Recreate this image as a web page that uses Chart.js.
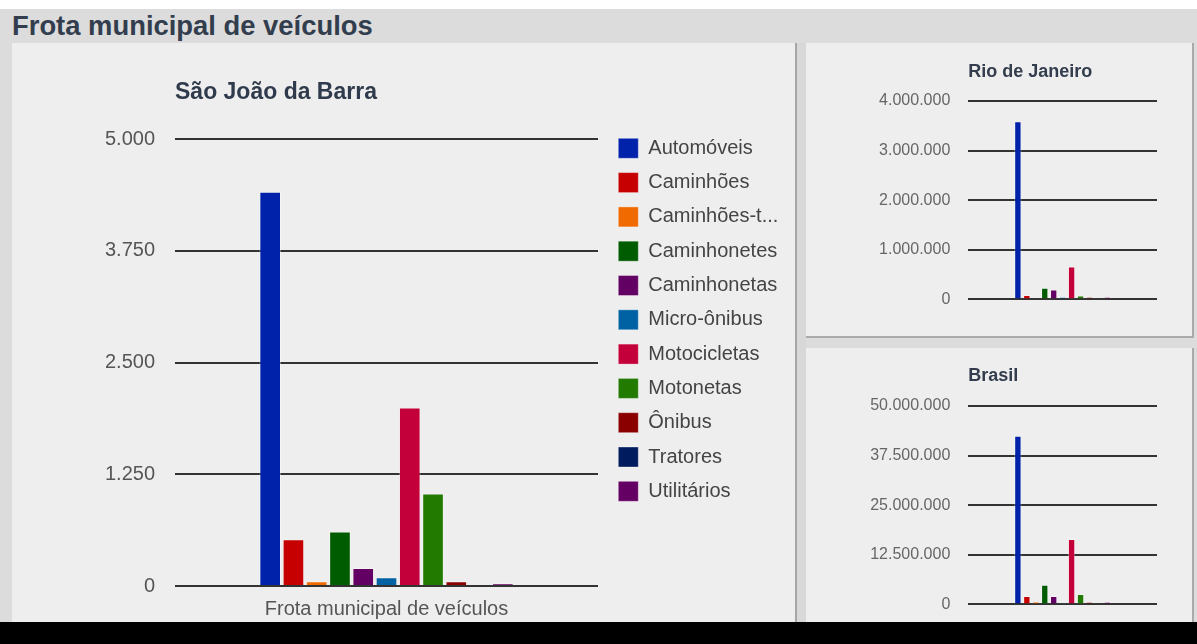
<!DOCTYPE html>
<html><head><meta charset="utf-8">
<script src="https://cdn.jsdelivr.net/npm/chart.js@4.4.1/dist/chart.umd.min.js"></script>
<style>
html,body{margin:0;padding:0;background:#fff;}
body{width:1197px;height:644px;position:relative;overflow:hidden;font-family:'Liberation Sans',Arial,sans-serif;}
#bg{position:absolute;left:0;top:9px;width:1197px;height:613px;background:#dcdcdc;}
#hdr{position:absolute;left:12px;top:12px;font-size:27.4px;line-height:27px;font-weight:bold;color:#323e4e;white-space:nowrap;}
#main{position:absolute;left:12px;top:43px;width:783px;height:579px;background:#eeeeee;}
#sep{position:absolute;left:795px;top:43px;width:2px;height:579px;background:#a6a6a6;}
#sep2{position:absolute;left:797px;top:43px;width:9px;height:579px;background:#d8d8d8;}
#rio{position:absolute;left:806px;top:43px;width:386px;height:293px;background:#eeeeee;border-right:2px solid #aaaaaa;border-bottom:2px solid #aaaaaa;}
#bra{position:absolute;left:806px;top:348px;width:386px;height:274px;background:#eeeeee;border-right:2px solid #aaaaaa;}
#black{position:absolute;left:0;top:622px;width:1197px;height:22px;background:#000;}
canvas{position:absolute;}
#c1{left:12px;top:43px;}
#c2{left:810px;top:43px;}
#c3{left:810px;top:348px;}
</style></head>
<body>
<div id="bg"></div>
<div id="hdr">Frota municipal de veículos</div>
<div id="main"></div>
<div id="sep"></div>
<div id="sep2"></div>
<div id="rio"></div>
<div id="bra"></div>
<canvas id="c1" width="768" height="581"></canvas>
<canvas id="c2" width="347" height="284"></canvas>
<canvas id="c3" width="347" height="284"></canvas>
<div id="black"></div>
<script>
const categories = ['Frota municipal de veículos'];
const seriesNames = ['Automóveis','Caminhões','Caminhões-trator','Caminhonetes','Caminhonetas','Micro-ônibus','Motocicletas','Motonetas','Ônibus','Tratores','Utilitários'];
const seriesColors = ['#0021a9','#c60000','#f06a00','#005c00','#620064','#0062a2','#c4003b','#237a00','#8a0000','#001c5e','#640064'];
const sjbValues = [4410, 523, 53, 610, 202, 97, 1996, 1035, 53, 0, 30];
const rjValues = [3590000, 89000, 15000, 237000, 202000, 49000, 662000, 81000, 49000, 3000, 49000];
const brValues = [42500000, 2100000, 680000, 4970000, 2100000, 370000, 16500000, 2600000, 600000, 30000, 600000];
const sjbTicks = [0, 1250, 2500, 3750, 5000];
const rjTicks = [0, 1000000, 2000000, 3000000, 4000000];
const brTicks = [0, 12500000, 25000000, 37500000, 50000000];

Chart.defaults.font.family = "'Liberation Sans', Arial, sans-serif";

function fmt(v){ return String(v).replace(/\B(?=(\d{3})+(?!\d))/g, '.'); }

function makeDatasets(values, catPct, barPct){
  return seriesNames.map((n,i)=>({
    label:n, data:[values[i]], backgroundColor:seriesColors[i],
    borderColor:'rgba(255,255,255,0.35)', borderWidth:1,
    categoryPercentage:catPct, barPercentage:barPct
  }));
}

function yScale(ticksArr, axisWidth, pad, fontSize, color){
  return {
    min:ticksArr[0], max:ticksArr[ticksArr.length-1],
    afterBuildTicks:(s)=>{ s.ticks = ticksArr.map(v=>({value:v})); },
    afterFit:(s)=>{ s.width = axisWidth; },
    grid:{color:'#333333', lineWidth:2, drawTicks:false},
    border:{display:false},
    ticks:{padding:pad, color:color, font:{size:fontSize}, callback:(v)=>fmt(v)}
  };
}

new Chart(document.getElementById('c1'), {
  type:'bar',
  data:{labels:categories, datasets:makeDatasets(sjbValues, 0.605, 0.93)},
  options:{
    responsive:false, animation:false, events:[],
    layout:{padding:0},
    plugins:{
      tooltip:{enabled:false},
      title:{display:true, text:'São João da Barra', align:'start', fullSize:false, color:'#2f3b4c',
             font:{size:23, weight:'bold'}, padding:{top:35.5, bottom:32.9}},
      legend:{display:true, position:'right', align:'start', maxWidth:176,
        title:{display:true, text:'', font:{size:10, lineHeight:1}, padding:{top:71, bottom:0}},
        labels:{boxWidth:20, boxHeight:20, padding:14.3, color:'#444', font:{size:20}, textAlign:'left',
          generateLabels:(chart)=>{
            const items = Chart.defaults.plugins.legend.labels.generateLabels(chart);
            items.forEach(it=>{ if (it.text.length > 13) it.text = it.text.slice(0,11) + '...'; it.textAlign='left'; });
            return items;
          }}
      }
    },
    scales:{
      x:{grid:{display:false}, border:{display:false}, ticks:{padding:3, color:'#555', font:{size:20}}},
      y:yScale(sjbTicks, 163, 20, 20, '#555'),
      pad:{type:'linear', axis:'y', position:'right', display:true, afterFit:(s)=>{ s.width = 6; },
           grid:{display:false}, border:{display:false}, ticks:{display:false}}
    }
  }
});

function smallChart(id, title, values, ticksArr, padTop, padBottom){
  new Chart(document.getElementById(id), {
    type:'bar',
    data:{labels:categories, datasets:makeDatasets(values, 0.522, 0.82)},
    options:{
      responsive:false, animation:false, events:[],
      layout:{padding:{left:0, right:0, top:0, bottom:12}},
      plugins:{
        tooltip:{enabled:false}, legend:{display:false},
        title:{display:true, text:title, align:'start', fullSize:false, color:'#333d4d',
               font:{size:18, weight:'bold'}, padding:{top:padTop, bottom:padBottom}}
      },
      scales:{
        x:{display:false},
        y:yScale(ticksArr, 158.3, 18, 16, '#666')
      }
    }
  });
}
smallChart('c2', 'Rio de Janeiro', rjValues, rjTicks, 17.9, 18.5);
smallChart('c3', 'Brasil', brValues, brTicks, 17.2, 19.2);
</script>
</body></html>
